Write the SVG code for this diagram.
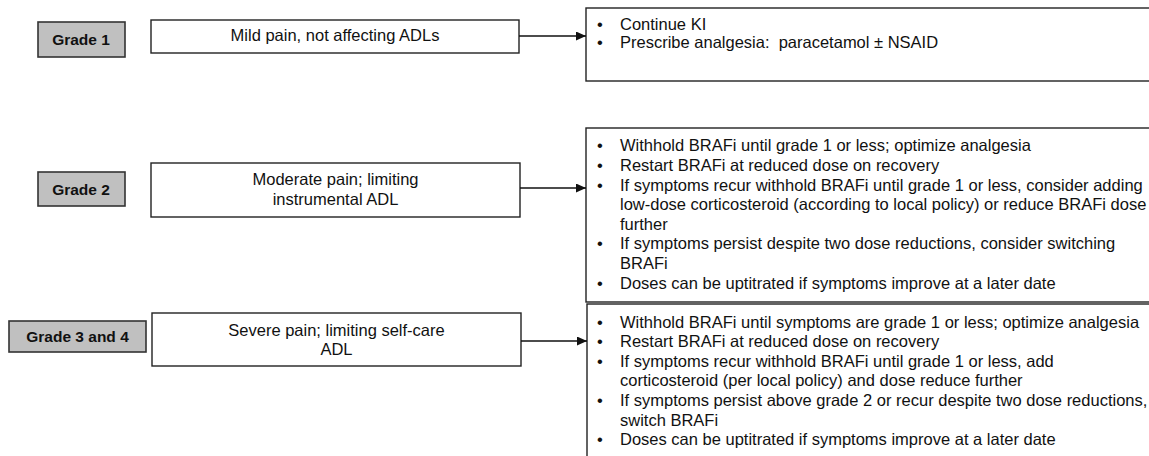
<svg xmlns="http://www.w3.org/2000/svg" width="1149" height="456" viewBox="0 0 1149 456">
<style>
  .grade rect { fill: #c0c0c0; stroke: #333333; stroke-width: 1.6; }
  .grade text { font-family: "Liberation Sans", Arial, sans-serif; font-size: 15.5px; font-weight: bold; fill: #111111; text-anchor: middle; }
  .desc rect { fill: #ffffff; stroke: #222222; stroke-width: 1.4; }
  .desc text { font-family: "Liberation Sans", Arial, sans-serif; font-size: 16.5px; fill: #111111; text-anchor: middle; }
  .action rect { fill: #ffffff; stroke: #222222; stroke-width: 1.4; }
  .action text { font-family: "Liberation Sans", Arial, sans-serif; font-size: 16.5px; fill: #111111; }
  .conn line { stroke: #111111; stroke-width: 1.4; fill: none; }
</style>
<defs>
  <marker id="arrow" markerWidth="10" markerHeight="9" refX="10" refY="4.5" orient="auto" markerUnits="userSpaceOnUse">
    <path d="M0,0 L10,4.5 L0,9 Z" fill="#111111"/>
  </marker>
</defs>
<rect x="0" y="0" width="1149" height="456" fill="#ffffff"/>

<g id="grade1" class="grade">
  <rect x="38" y="22" width="87" height="35"/>
  <text x="81" y="44.5">Grade 1</text>
</g>
<g id="grade2" class="grade">
  <rect x="38" y="172" width="87" height="34"/>
  <text x="81" y="195">Grade 2</text>
</g>
<g id="grade34" class="grade">
  <rect x="9" y="321" width="137" height="31"/>
  <text x="77.5" y="342">Grade 3 and 4</text>
</g>

<g id="desc1" class="desc">
  <rect x="151" y="20" width="368" height="33"/>
  <text x="335" y="41">Mild pain, not affecting ADLs</text>
</g>
<g id="desc2" class="desc">
  <rect x="151" y="163" width="369" height="54"/>
  <text x="335.5" y="185">Moderate pain; limiting</text>
  <text x="335.5" y="205">instrumental ADL</text>
</g>
<g id="desc34" class="desc">
  <rect x="152" y="313" width="369" height="53"/>
  <text x="336.5" y="336">Severe pain; limiting self-care</text>
  <text x="336.5" y="355">ADL</text>
</g>

<g id="action1" class="action">
  <rect x="586" y="8" width="600" height="73"/>
  <text x="597" y="30">•</text><text x="620" y="30">Continue KI</text>
  <text x="597" y="47.5">•</text><text x="620" y="47.5" xml:space="preserve">Prescribe analgesia:  paracetamol ± NSAID</text>
</g>
<g id="action2" class="action">
  <rect x="586" y="128" width="600" height="174"/>
  <text x="597" y="151.4">•</text><text x="620" y="151.4">Withhold BRAFi until grade 1 or less; optimize analgesia</text>
  <text x="597" y="171">•</text><text x="620" y="171">Restart BRAFi at reduced dose on recovery</text>
  <text x="597" y="190.6">•</text><text x="620" y="190.6">If symptoms recur withhold BRAFi until grade 1 or less, consider adding</text>
  <text x="620" y="210.2">low-dose corticosteroid (according to local policy) or reduce BRAFi dose</text>
  <text x="620" y="229.8">further</text>
  <text x="597" y="249.4">•</text><text x="620" y="249.4">If symptoms persist despite two dose reductions, consider switching</text>
  <text x="620" y="269">BRAFi</text>
  <text x="597" y="288.6">•</text><text x="620" y="288.6">Doses can be uptitrated if symptoms improve at a later date</text>
</g>
<g id="action34" class="action">
  <rect x="587" y="304" width="600" height="200"/>
  <text x="597" y="327.5">•</text><text x="620" y="327.5">Withhold BRAFi until symptoms are grade 1 or less; optimize analgesia</text>
  <text x="597" y="347">•</text><text x="620" y="347">Restart BRAFi at reduced dose on recovery</text>
  <text x="597" y="366.7">•</text><text x="620" y="366.7">If symptoms recur withhold BRAFi until grade 1 or less, add</text>
  <text x="620" y="386.3">corticosteroid (per local policy) and dose reduce further</text>
  <text x="597" y="406">•</text><text x="620" y="406">If symptoms persist above grade 2 or recur despite two dose reductions,</text>
  <text x="620" y="425.5">switch BRAFi</text>
  <text x="597" y="445">•</text><text x="620" y="445">Doses can be uptitrated if symptoms improve at a later date</text>
</g>

<g id="connectors" class="conn">
  <line x1="519" y1="36" x2="586" y2="36" marker-end="url(#arrow)"/>
  <line x1="520" y1="188" x2="586" y2="188" marker-end="url(#arrow)"/>
  <line x1="521" y1="341" x2="587" y2="341" marker-end="url(#arrow)"/>
</g>
</svg>
